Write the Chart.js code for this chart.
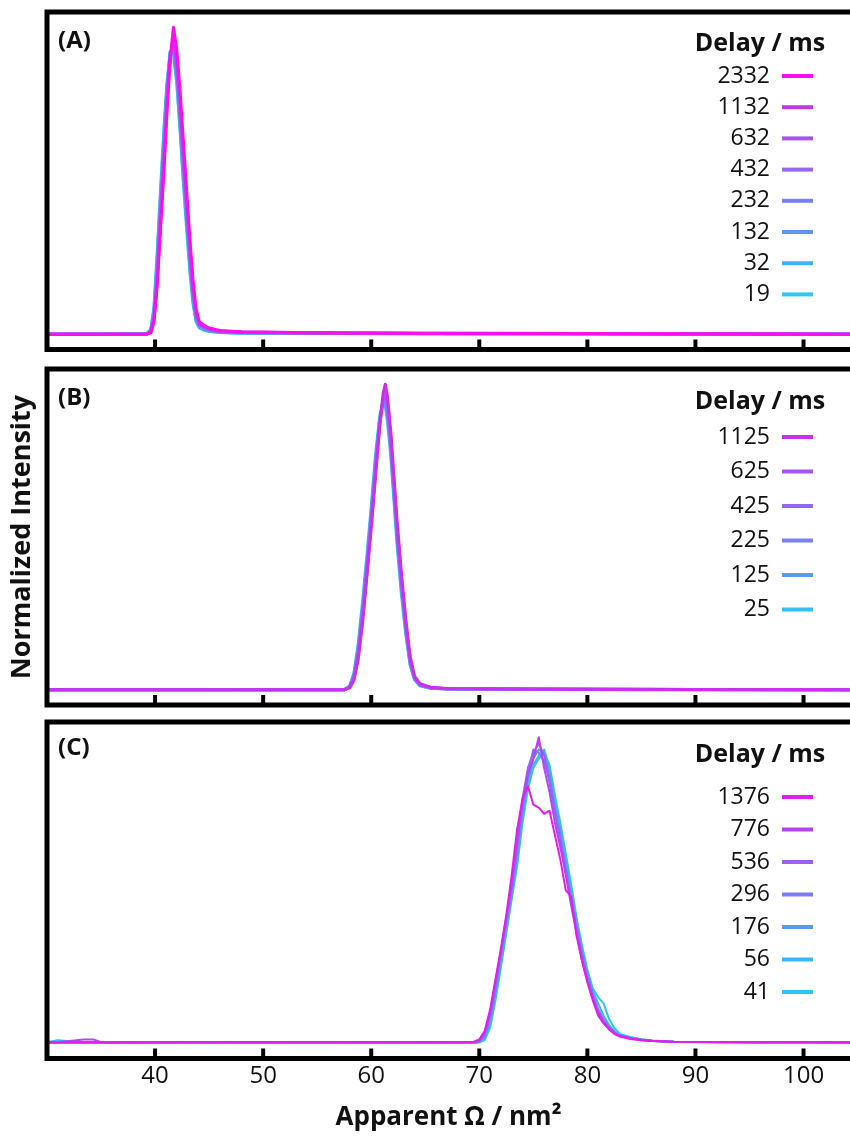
<!DOCTYPE html>
<html><head><meta charset="utf-8">
<script src="https://cdn.jsdelivr.net/npm/chart.js@4.4.1/dist/chart.umd.min.js"></script>
<style>
html,body{margin:0;padding:0;background:#fff;}
#wrap{position:relative;width:850px;height:1136px;overflow:hidden;background:#fff;}
canvas{position:absolute;left:0;}
</style></head><body>
<div id="wrap">
<canvas id="cA" width="850" height="360" style="top:0px"></canvas>
<canvas id="cB" width="850" height="355" style="top:360px"></canvas>
<canvas id="cC" width="850" height="421" style="top:715px"></canvas>
</div>
<script>
// ---------- shared axis data ----------
const tickValues = [40, 50, 60, 70, 80, 90, 100];
const xMin = 30, xMax = 104.3;
const yMin = -0.05, yMax = 1.05;
const legendTitle = 'Delay / ms';
const xTitle = 'Apparent Ω / nm²';
const yTitle = 'Normalized Intensity';

// ---------- panel A ----------
const delaysA = ['2332', '1132', '632', '432', '232', '132', '32', '19'];
const colorsA = ['#ff0cf0', '#c436ea', '#a652ee', '#9468f0', '#7a80f4', '#5e96f4', '#3ab4f4', '#2ec8f2'];
const xA = [30, 35, 39.2, 39.6, 39.9, 40.2, 40.5, 40.8, 41.1, 41.4, 41.7, 42.0, 42.3, 42.6, 42.9, 43.2, 43.5, 43.8, 44.1, 44.5, 45, 46, 48, 55, 65, 80, 104.3];
const yA2332 = [0,0,0,0.004,0.04,0.16,0.34,0.52,0.72,0.9,1.0,0.93,0.8,0.64,0.48,0.32,0.18,0.08,0.04,0.03,0.02,0.012,0.008,0.005,0.003,0.002,0];
const yA1132 = [0,0,0,0.005,0.045,0.17,0.36,0.54,0.74,0.9,0.97,0.9,0.77,0.61,0.45,0.3,0.16,0.07,0.035,0.026,0.018,0.01,0.007,0.004,0.003,0.002,0];
const yA632  = [0,0,0,0.006,0.05,0.18,0.37,0.56,0.75,0.9,0.96,0.89,0.75,0.59,0.44,0.29,0.15,0.065,0.032,0.024,0.016,0.009,0.006,0.004,0.002,0.001,0];
const yA432  = [0,0,0,0.007,0.055,0.19,0.39,0.58,0.77,0.91,0.95,0.87,0.73,0.57,0.42,0.27,0.14,0.06,0.03,0.022,0.015,0.008,0.005,0.003,0.002,0.001,0];
const yA232  = [0,0,0,0.008,0.06,0.21,0.41,0.6,0.78,0.91,0.94,0.86,0.72,0.56,0.41,0.26,0.13,0.055,0.028,0.02,0.013,0.007,0.005,0.003,0.002,0.001,0];
const yA132  = [0,0,0,0.01,0.07,0.23,0.43,0.62,0.8,0.92,0.93,0.85,0.7,0.54,0.39,0.25,0.12,0.05,0.025,0.018,0.011,0.006,0.004,0.003,0.002,0.001,0];
const yA32   = [0,0,0.001,0.013,0.08,0.25,0.45,0.64,0.81,0.92,0.92,0.83,0.68,0.52,0.37,0.23,0.11,0.045,0.022,0.015,0.01,0.005,0.004,0.002,0.001,0.001,0];
const yA19   = [0,0,0.002,0.016,0.09,0.27,0.47,0.66,0.82,0.92,0.91,0.82,0.67,0.5,0.35,0.21,0.1,0.04,0.02,0.013,0.009,0.005,0.003,0.002,0.001,0.001,0];
const seriesA = [yA2332, yA1132, yA632, yA432, yA232, yA132, yA32, yA19];

// ---------- panel B ----------
const delaysB = ['1125', '625', '425', '225', '125', '25'];
const colorsB = ['#cc2ef0', '#a455ee', '#9468f0', '#7880f2', '#5a9af4', '#30c0f4'];
const xB = [30, 45, 57.5, 58.0, 58.4, 58.8, 59.2, 59.6, 60.0, 60.4, 60.8, 61.1, 61.3, 61.5, 61.8, 62.1, 62.4, 62.8, 63.2, 63.6, 64.0, 64.5, 65.5, 67, 75, 90, 104.3];
const yB1125 = [0,0,0,0.006,0.03,0.1,0.22,0.37,0.53,0.7,0.87,0.97,1.0,0.96,0.85,0.7,0.55,0.38,0.23,0.11,0.045,0.02,0.008,0.004,0.002,0.001,0];
const yB625  = [0,0,0,0.007,0.035,0.11,0.23,0.38,0.54,0.71,0.87,0.95,0.97,0.94,0.83,0.68,0.53,0.36,0.22,0.1,0.042,0.018,0.007,0.003,0.002,0.001,0];
const yB425  = [0,0,0,0.008,0.04,0.12,0.24,0.39,0.55,0.72,0.88,0.95,0.96,0.93,0.82,0.67,0.52,0.35,0.21,0.095,0.04,0.016,0.006,0.003,0.002,0.001,0];
const yB225  = [0,0,0,0.009,0.045,0.13,0.26,0.41,0.57,0.74,0.89,0.95,0.95,0.91,0.8,0.65,0.5,0.34,0.2,0.09,0.038,0.015,0.006,0.003,0.001,0.001,0];
const yB125  = [0,0,0,0.01,0.05,0.14,0.27,0.42,0.58,0.75,0.89,0.94,0.94,0.9,0.79,0.64,0.49,0.33,0.19,0.085,0.035,0.014,0.005,0.002,0.001,0,0];
const yB25   = [0,0,0.001,0.012,0.055,0.15,0.29,0.44,0.6,0.77,0.9,0.94,0.93,0.88,0.77,0.62,0.47,0.31,0.18,0.08,0.033,0.013,0.005,0.002,0.001,0,0];
const seriesB = [yB1125, yB625, yB425, yB225, yB125, yB25];

// ---------- panel C ----------
const delaysC = ['1376', '776', '536', '296', '176', '56', '41'];
const colorsC = ['#e41cee', '#b444ee', '#9a60f0', '#7c7cf2', '#5e96f4', '#3ab6f4', '#2cc6f4'];
const xC = [30, 31, 33.4, 34.3, 35, 45, 55, 62, 68,
  69.5, 70, 70.5, 71, 71.5, 72, 72.5, 73, 73.5, 74, 74.5, 75, 75.5, 76, 76.5, 77, 77.5, 78, 78.5, 79, 79.5, 80, 80.5, 81, 81.5, 82, 82.5, 83,
  84, 85, 86, 88, 93, 96, 100, 104.3];
const yC1376 = [0.002,0.002,0.003,0.003,0.002,0.004,0.003,0.004,0.003,
  0.005,0.012,0.04,0.11,0.21,0.31,0.42,0.55,0.7,0.8,0.84,0.78,0.77,0.75,0.76,0.68,0.6,0.5,0.48,0.35,0.27,0.2,0.14,0.09,0.065,0.045,0.03,0.022,
  0.014,0.01,0.007,0.005,0.004,0.003,0.004,0.003];
const yC776 = [0.002,0.003,0.012,0.012,0.003,0.002,0.003,0.002,0.003,
  0.004,0.01,0.035,0.1,0.2,0.3,0.41,0.52,0.66,0.79,0.88,0.93,1.0,0.9,0.82,0.72,0.64,0.55,0.45,0.36,0.27,0.2,0.15,0.1,0.07,0.05,0.035,0.025,
  0.016,0.011,0.008,0.005,0.003,0.004,0.003,0.002];
const yC536 = [0.002,0.002,0.003,0.002,0.002,0.003,0.002,0.003,0.002,
  0.003,0.008,0.03,0.09,0.19,0.3,0.41,0.52,0.65,0.8,0.9,0.95,0.98,0.94,0.85,0.75,0.66,0.56,0.46,0.37,0.28,0.21,0.15,0.1,0.07,0.05,0.033,0.024,
  0.015,0.01,0.007,0.004,0.003,0.002,0.003,0.002];
const yC296 = [0.002,0.003,0.002,0.002,0.003,0.002,0.003,0.002,0.002,
  0.002,0.006,0.025,0.085,0.18,0.29,0.4,0.5,0.63,0.77,0.88,0.96,0.95,0.92,0.86,0.76,0.67,0.57,0.47,0.38,0.29,0.22,0.16,0.11,0.075,0.05,0.034,0.024,
  0.016,0.011,0.007,0.004,0.003,0.003,0.002,0.002];
const yC176 = [0.002,0.002,0.002,0.003,0.002,0.002,0.002,0.003,0.002,
  0.002,0.005,0.02,0.075,0.17,0.28,0.39,0.49,0.62,0.76,0.86,0.93,0.96,0.95,0.88,0.77,0.69,0.58,0.48,0.39,0.3,0.22,0.16,0.11,0.08,0.055,0.036,0.025,
  0.017,0.012,0.008,0.005,0.004,0.002,0.003,0.002];
const yC56 = [0.003,0.008,0.002,0.002,0.002,0.002,0.003,0.002,0.002,
  0.001,0.004,0.015,0.065,0.16,0.26,0.37,0.48,0.6,0.74,0.85,0.91,0.94,0.96,0.9,0.8,0.7,0.6,0.5,0.4,0.31,0.23,0.17,0.13,0.09,0.06,0.04,0.026,
  0.018,0.012,0.008,0.005,0.003,0.003,0.002,0.002];
const yC41 = [0.003,0.01,0.002,0.002,0.002,0.002,0.002,0.002,0.002,
  0,0.002,0.01,0.05,0.14,0.25,0.36,0.47,0.58,0.72,0.83,0.9,0.93,0.95,0.91,0.81,0.72,0.62,0.52,0.41,0.32,0.24,0.18,0.15,0.13,0.08,0.05,0.03,
  0.02,0.013,0.009,0.005,0.004,0.003,0.003,0.002];
const seriesC = [yC1376, yC776, yC536, yC296, yC176, yC56, yC41];

// ---------- helpers ----------
const FONT = '"Open Sans", "Noto Sans", sans-serif';
Chart.defaults.font.family = FONT;

function makeDatasets(xs, series, labels, colors, width) {
  return series.map((ys, k) => ({
    label: labels[k],
    data: xs.map((x, i) => ({ x: x, y: ys[i] })),
    borderColor: colors[k],
    backgroundColor: colors[k],
    borderWidth: width,
    borderJoinStyle: 'round',
    borderCapStyle: 'round',
    pointRadius: 0,
    tension: 0,
    fill: false
  }));
}

const framePlugin = {
  id: 'frame',
  afterDatasetsDraw(chart, args, o) {
    const ctx = chart.ctx, a = chart.chartArea, xs = chart.scales.x;
    ctx.save();
    ctx.strokeStyle = '#000';
    ctx.lineJoin = 'miter';
    ctx.lineCap = 'butt';
    ctx.lineWidth = 5;
    ctx.beginPath();
    ctx.moveTo(chart.width + 5, a.top);
    ctx.lineTo(a.left, a.top);
    ctx.lineTo(a.left, a.bottom);
    ctx.lineTo(chart.width + 5, a.bottom);
    ctx.stroke();
    ctx.lineWidth = 4;
    tickValues.forEach(v => {
      const px = xs.getPixelForValue(v);
      ctx.beginPath();
      ctx.moveTo(px, a.bottom);
      ctx.lineTo(px, a.bottom - 10);
      ctx.stroke();
    });
    // panel label
    ctx.fillStyle = '#111';
    ctx.textBaseline = 'middle';
    ctx.textAlign = 'left';
    ctx.font = 'bold 24px ' + FONT;
    ctx.fillText(o.label, a.left + 11, o.labelY);
    // legend
    ctx.font = 'bold 25px ' + FONT;
    ctx.textAlign = 'center';
    ctx.fillText(legendTitle, 760, o.headerY);
    ctx.font = '23px ' + FONT;
    ctx.textAlign = 'right';
    chart.data.datasets.forEach((ds, i) => {
      const y = o.firstY + i * o.step;
      ctx.fillStyle = '#111';
      ctx.fillText(ds.label, 770, y);
      ctx.strokeStyle = ds.borderColor;
      ctx.lineWidth = 4;
      ctx.beginPath();
      ctx.moveTo(782, y);
      ctx.lineTo(813, y);
      ctx.stroke();
    });
    ctx.restore();
  }
};

function baseOptions(pad, frameOpts) {
  return {
    responsive: false,
    animation: false,
    layout: { padding: pad },
    plugins: { legend: { display: false }, tooltip: { enabled: false }, frame: frameOpts },
    scales: {
      x: { type: 'linear', min: xMin, max: xMax, display: false,
           afterBuildTicks: s => { s.ticks = tickValues.map(v => ({ value: v })); } },
      y: { type: 'linear', min: yMin, max: yMax, display: false }
    }
  };
}

// Panel A
const optA = baseOptions({ left: 47, top: 12, right: 0, bottom: 10.5 },
  { label: '(A)', labelY: 41, headerY: 44, firstY: 76, step: 31.2 });
new Chart(document.getElementById('cA'), {
  type: 'line',
  data: { datasets: makeDatasets(xA, seriesA, delaysA, colorsA, 3) },
  options: optA,
  plugins: [framePlugin]
});

// Panel B
const optB = baseOptions({ left: 0, top: 9, right: 0, bottom: 10 },
  { label: '(B)', labelY: 38, headerY: 42, firstY: 77, step: 34.5 });
optB.scales.y = {
  type: 'linear', min: yMin, max: yMax, display: true,
  grid: { display: false, drawTicks: false }, border: { display: false },
  ticks: { display: false },
  title: { display: true, text: yTitle, color: '#111', font: { family: FONT, size: 27, weight: 'bold' }, padding: { top: 6, bottom: 0 } },
  afterFit: s => { s.width = 47; }
};
new Chart(document.getElementById('cB'), {
  type: 'line',
  data: { datasets: makeDatasets(xB, seriesB, delaysB, colorsB, 3) },
  options: optB,
  plugins: [framePlugin]
});

// Panel C
const optC = baseOptions({ left: 47, top: 7, right: 0, bottom: 0 },
  { label: '(C)', labelY: 33, headerY: 40, firstY: 82, step: 32.5 });
optC.scales.x = {
  type: 'linear', min: xMin, max: xMax, display: true,
  afterBuildTicks: s => { s.ticks = tickValues.map(v => ({ value: v })); },
  grid: { display: false, drawTicks: false }, border: { display: false },
  ticks: { color: '#111', font: { family: FONT, size: 24 }, padding: 3, maxRotation: 0, autoSkip: false },
  title: { display: true, text: xTitle, color: '#111', font: { family: FONT, size: 26, weight: 'bold' }, padding: { top: 0, bottom: 3 } },
  afterFit: s => { s.height = 77.5; }
};
new Chart(document.getElementById('cC'), {
  type: 'line',
  data: { datasets: makeDatasets(xC, seriesC, delaysC, colorsC, 2) },
  options: optC,
  plugins: [framePlugin]
});
</script>
</body></html>
